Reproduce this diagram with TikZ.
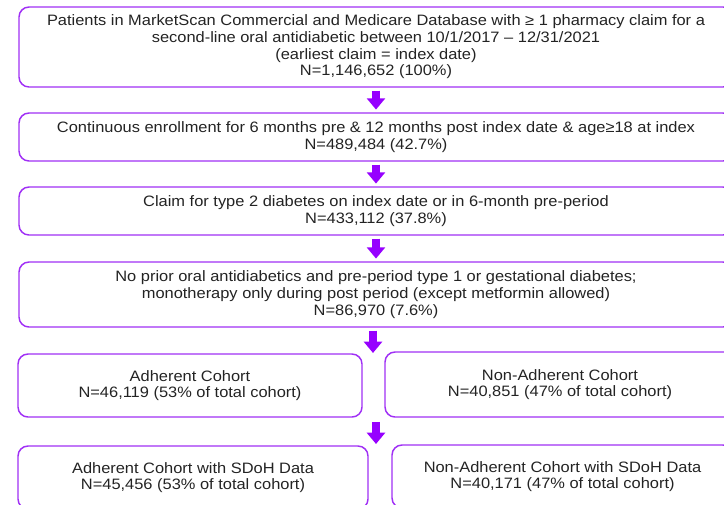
\documentclass[tikz,border=0pt]{standalone}
\usepackage{fontspec}
\setmainfont{Liberation Sans}[FakeStretch=1.09]
\usepackage{tikz}
\usetikzlibrary{arrows.meta}

\definecolor{boxline}{RGB}{160,48,245}
\definecolor{flowarrow}{RGB}{150,0,255}
\definecolor{boxtext}{RGB}{35,35,35}

\tikzset{
    stagebox/.style = {draw=boxline, line width=1.1pt, rounded corners=7.5pt,
        align=center, inner sep=0pt, text=boxtext,
        font=\fontsize{11.3}{12.5}\selectfont},
    flow/.style = {draw=flowarrow, line width=6pt,
        arrows = {-Triangle[width=13.5pt, length=8.5pt]},
        shorten <=2.2pt, shorten >=2pt}
}

\begin{document}
\begin{tikzpicture}[x=0.75pt, y=-0.75pt]
    \useasboundingbox (0, 0) rectangle (724, 504);
    \node[stagebox, minimum width=535.5pt, minimum height=60pt] (index) at (376, 47)
        { Patients in MarketScan Commercial and Medicare Database with ≥ 1 pharmacy claim for a \\
          second-line oral antidiabetic between 10/1/2017 -- 12/31/2021 \\
          (earliest claim = index date) \\
          N=1,146,652 (100\%) };
    \node[stagebox, minimum width=535.5pt, minimum height=36pt] (enroll) at (376, 137)
        { Continuous enrollment for 6 months pre \& 12 months post index date \& age≥18 at index \\
          N=489,484 (42.7\%) };
    \node[stagebox, minimum width=535.5pt, minimum height=36pt] (tdiab) at (376, 211)
        { Claim for type 2 diabetes on index date or in 6-month pre-period \\
          N=433,112 (37.8\%) };
    \node[stagebox, minimum width=535.5pt, minimum height=48.75pt] (mono) at (376, 294.5)
        { No prior oral antidiabetics and pre-period type 1 or gestational diabetes; \\
          monotherapy only during post period (except metformin allowed) \\
          N=86,970 (7.6\%) };
    \node[stagebox, minimum width=258pt, minimum height=47.25pt] (adh) at (190, 385.5)
        { Adherent Cohort \\ N=46,119 (53\% of total cohort) };
    \node[stagebox, minimum width=262.5pt, minimum height=48.75pt] (nonadh) at (560, 384.5)
        { Non-Adherent Cohort \\ N=40,851 (47\% of total cohort) };
    \node[stagebox, minimum width=262.5pt, minimum height=47.25pt] (adhsdoh) at (193, 477.5)
        { Adherent Cohort with SDoH Data \\ N=45,456 (53\% of total cohort) };
    \node[stagebox, minimum width=255.75pt, minimum height=47.25pt] (nonadhsdoh) at (562.5, 476.5)
        { Non-Adherent Cohort with SDoH Data \\ N=40,171 (47\% of total cohort) };

    \coordinate (split) at (373, 353);
    \coordinate (sdohtop) at (376, 419);
    \coordinate (sdohbot) at (376, 444);

    \draw[flow] (index) -- (enroll);
    \draw[flow] (enroll) -- (tdiab);
    \draw[flow] (tdiab) -- (mono);
    \draw[flow, shorten >=0pt] (mono.south -| split) -- (split);
    \draw[flow, shorten >=0pt] (sdohtop) -- (sdohbot);
\end{tikzpicture}
\end{document}
